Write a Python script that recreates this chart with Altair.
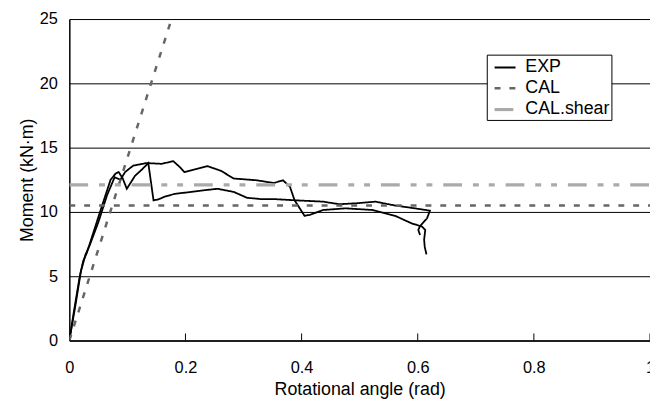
import altair as alt
import pandas as pd

# EXP curve, branch A (lower path after the sharp peak)
exp_a_x = [0, 0.008, 0.018, 0.024, 0.03, 0.04, 0.055, 0.071, 0.08, 0.085, 0.092, 0.099, 0.106, 0.113,
           0.125, 0.136, 0.145, 0.153, 0.165, 0.181, 0.21, 0.235, 0.255, 0.283, 0.306, 0.33, 0.352,
           0.391, 0.437, 0.465, 0.493, 0.527, 0.561, 0.595, 0.621, 0.616, 0.604, 0.601, 0.604]
exp_a_m = [0, 2.3, 5.0, 6.2, 6.8, 8.2, 10.3, 12.5, 13.0, 13.1, 12.6, 11.8, 12.3, 12.8,
           13.3, 13.8, 10.9, 10.97, 11.2, 11.4, 11.56, 11.7, 11.8, 11.56, 11.1, 11.0, 11.0,
           10.9, 10.8, 10.6, 10.67, 10.8, 10.5, 10.28, 10.1, 9.5, 8.9, 8.6, 8.2]

# EXP curve, branch B (upper path, drop near 0.38)
exp_b_x = [0, 0.01, 0.02, 0.028, 0.035, 0.05, 0.065, 0.078, 0.088, 0.096, 0.11, 0.133, 0.159, 0.179,
           0.19, 0.198, 0.215, 0.238, 0.261, 0.283, 0.323, 0.352, 0.368, 0.38, 0.388, 0.405, 0.414,
           0.437, 0.476, 0.522, 0.561, 0.59, 0.607, 0.613, 0.611, 0.612, 0.615]
exp_b_m = [0, 2.6, 5.4, 6.7, 7.4, 9.2, 11.3, 12.7, 12.5, 13.1, 13.6, 13.8, 13.74, 13.95,
           13.5, 13.1, 13.3, 13.56, 13.2, 12.6, 12.46, 12.25, 12.46, 11.95, 10.9, 9.7, 9.77,
           10.15, 10.28, 10.15, 9.7, 9.1, 8.87, 8.6, 7.85, 7.3, 6.7]

# CAL: elastic slope and plateau
cal_slope_x = [0, 0.176]
cal_slope_m = [0, 25]
cal_flat_x = [0, 1]
cal_flat_m = [10.5, 10.5]

# CAL.shear level
shear_x = [0, 1]
shear_m = [12.1, 12.1]

x_ticks = [0, 0.2, 0.4, 0.6, 0.8, 1]
inner_ticks = [0.2, 0.4, 0.6, 0.8, 1]
y_ticks = [0, 5, 10, 15, 20, 25]

series_names = ["EXP", "CAL", "CAL.shear"]

rows = []
def add(xs, ms, series, branch):
    for i, (a, b) in enumerate(zip(xs, ms)):
        rows.append({"x": a, "M": b, "series": series, "branch": branch, "i": i})

add(exp_a_x, exp_a_m, "EXP", "A")
add(exp_b_x, exp_b_m, "EXP", "B")
add(cal_slope_x, cal_slope_m, "CAL", "C1")
add(cal_flat_x, cal_flat_m, "CAL", "C2")
add(shear_x, shear_m, "CAL.shear", "S")
df = pd.DataFrame(rows)

ticks_df = pd.DataFrame({"x": inner_ticks, "M": [0] * len(inner_ticks), "M2": [0.55] * len(inner_ticks)})

FONT = "Liberation Sans"

legend = alt.Legend(
    title=None, orient="none", legendX=422, legendY=36,
    fillColor="white", strokeColor="black", padding=1,
    symbolType="stroke", symbolSize=450, symbolOffset=5,
    labelFont=FONT, labelFontSize=18, labelColor="black", labelOffset=8,
    rowPadding=-0.5, cornerRadius=0,
)

lines = alt.Chart(df).mark_line(clip=True).encode(
    x=alt.X("x:Q", scale=alt.Scale(domain=[0, 1], nice=False),
            axis=alt.Axis(title="Rotational angle (rad)", values=x_ticks, format="~g",
                          ticks=False, tickSize=0, grid=False, domainColor="black", domainWidth=1.5,
                          labelPadding=19, titlePadding=5, labelFontSize=16.5, titleFontSize=18,
                          labelFont=FONT, titleFont=FONT, labelColor="black", titleColor="black",
                          titleFontWeight="normal", labelFlush=False)),
    y=alt.Y("M:Q", scale=alt.Scale(domain=[0, 25], nice=False),
            axis=alt.Axis(title="Moment (kN·m)", values=y_ticks, ticks=False, tickSize=0,
                          grid=True, gridColor="black", gridWidth=1, gridOpacity=1,
                          domainColor="black", domainWidth=1.5,
                          labelPadding=12, titlePadding=3, labelFontSize=16.5, titleFontSize=18,
                          labelFont=FONT, titleFont=FONT, labelColor="black", titleColor="black",
                          titleFontWeight="normal")),
    color=alt.Color("series:N", scale=alt.Scale(domain=series_names, range=["black", "#666666", "#aaaaaa"]),
                    legend=legend),
    strokeDash=alt.StrokeDash("series:N", scale=alt.Scale(domain=series_names,
                              range=[[1, 0], [6, 9], [19, 11, 6, 10, 6, 11]]), legend=legend),
    strokeWidth=alt.StrokeWidth("series:N", scale=alt.Scale(domain=series_names, range=[1.8, 3.2, 3.5]),
                                legend=legend),
    detail="branch:N",
    order="i:Q",
)

tick_marks = alt.Chart(ticks_df).mark_rule(color="black", strokeWidth=1).encode(
    x="x:Q", y="M:Q", y2="M2:Q"
)

chart = alt.layer(lines, tick_marks).properties(
    width=587, height=325,
    autosize=alt.AutoSizeParams(type="none"),
    padding={"left": 62, "top": 9, "right": 0, "bottom": 62},
).configure_view(stroke=None)

chart.save("out.html", embed_options={"renderer": "svg", "actions": False})
